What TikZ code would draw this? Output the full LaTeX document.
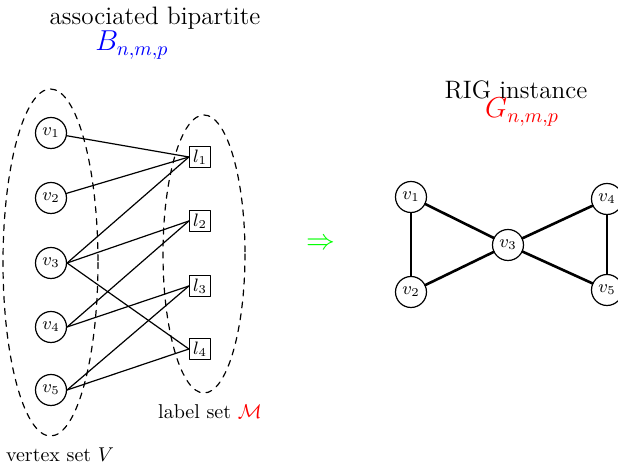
\documentclass[tikz,border=0pt]{standalone}
\usepackage{fontspec}
\usepackage{amsmath}

\begin{document}
\begin{tikzpicture}[x=0.5pt,y=-0.5pt,line cap=round,line join=round,
  vtx/.style={circle,draw,semithick,minimum size=15.5pt,inner sep=0pt,font=\small},
  lbl/.style={rectangle,draw,semithick,minimum size=10.5pt,inner sep=1pt,font=\small},
  grp/.style={draw,dashed,semithick},
  bedge/.style={semithick},
  gedge/.style={line width=1.3pt},
  ttl/.style={font=\fontsize{12.6}{15}\selectfont}]
\useasboundingbox (0,0) rectangle (618,464);
% bipartite side
\begin{scope}
\node[ttl] (titleB) at (155,18) {associated bipartite};
\node[text=blue,font=\Large] (nameB) at (132,45) {$B_{n,m,p}$};
\draw[grp] (50.5,262.5) ellipse [x radius=47.5,y radius=173.5];
\draw[grp] (204,254) ellipse [x radius=41,y radius=139];
\node[vtx] (a1) at (51,133) {$v_1$};
\node[vtx] (a2) at (51,198) {$v_2$};
\node[vtx] (a3) at (51,263) {$v_3$};
\node[vtx] (a4) at (51,327) {$v_4$};
\node[vtx] (a5) at (51,390) {$v_5$};
\node[lbl] (l1) at (200,157) {$l_1$};
\node[lbl] (l2) at (200,221) {$l_2$};
\node[lbl] (l3) at (200,286) {$l_3$};
\node[lbl] (l4) at (200,349) {$l_4$};
\draw[bedge] (a1) -- (l1.west);
\draw[bedge] (a2) -- (l1.west);
\draw[bedge] (a3.east) -- (l1.west);
\draw[bedge] (a3.east) -- (l2.west);
\draw[bedge] (a3.east) -- (l4.west);
\draw[bedge] (a4.east) -- (l2.west);
\draw[bedge] (a4.east) -- (l3.west);
\draw[bedge] (a5.east) -- (l3.west);
\draw[bedge] (a5.east) -- (l4.west);
\node (setM) at (210,412) {label set \textcolor{red}{$\mathcal{M}$}};
\node (setV) at (60,455) {vertex set $V$};
\end{scope}
% arrow
\node[text=green,font=\Large] (imp) at (321,244) {$\Rightarrow$};
% RIG side
\begin{scope}
\node[ttl] (titleG) at (516,90) {RIG instance};
\node[text=red,font=\Large] (nameG) at (522,112) {$G_{n,m,p}$};
\node[vtx] (b1) at (411,197) {$v_1$};
\node[vtx] (b2) at (411,292) {$v_2$};
\node[vtx] (b3) at (508,245) {$v_3$};
\node[vtx] (b4) at (607,199) {$v_4$};
\node[vtx] (b5) at (607,290) {$v_5$};
\draw[gedge] (b1) -- (b2);
\draw[gedge] (b1) -- (b3);
\draw[gedge] (b2) -- (b3);
\draw[gedge] (b3) -- (b4);
\draw[gedge] (b3) -- (b5);
\draw[gedge] (b4) -- (b5);
\end{scope}
\end{tikzpicture}
\end{document}
